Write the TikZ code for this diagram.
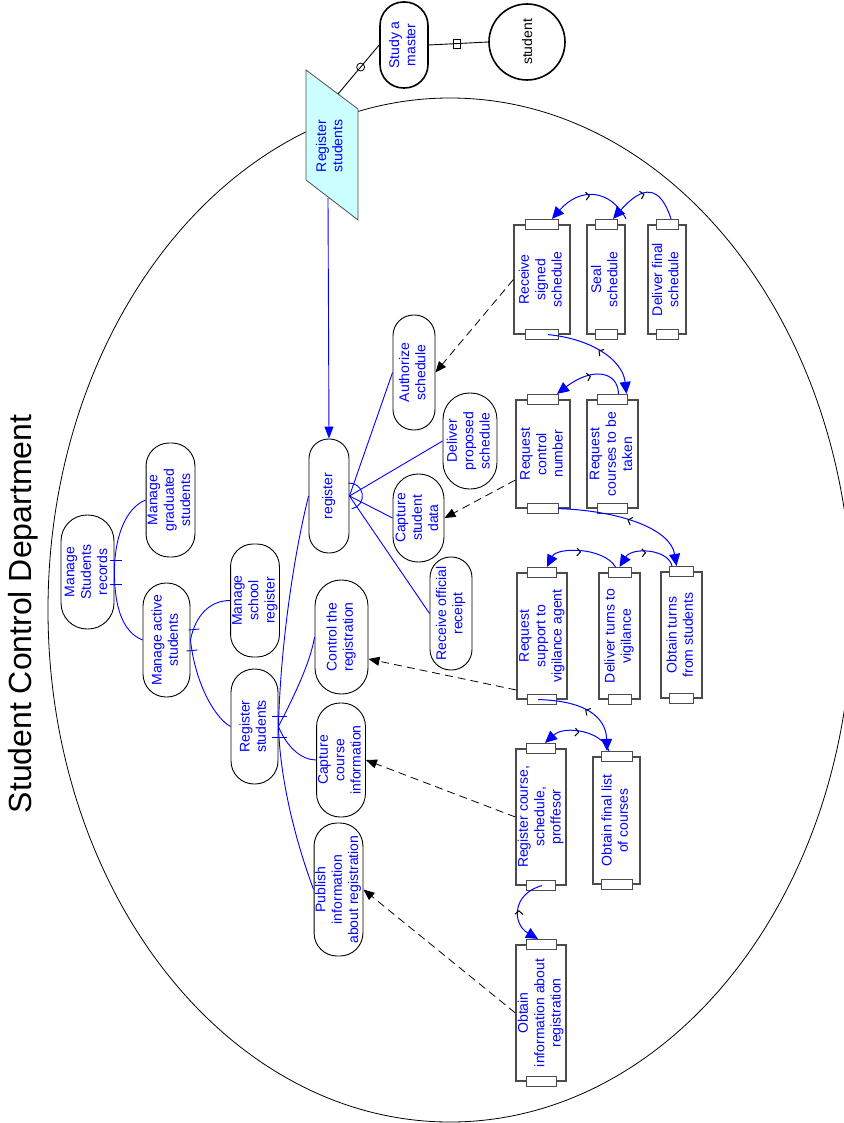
\documentclass[tikz,border=0pt]{standalone}
\usepackage{fontspec}
\setmainfont{Liberation Sans}
\usepackage{graphicx}
\usetikzlibrary{arrows.meta,decorations.markings,calc}
\newcommand{\rtx}[1]{\rotatebox{90}{\begin{tabular}{@{}c@{}}#1\end{tabular}}}
\newcommand{\nodefnt}{\fontsize{14}{16.3}\selectfont}
\definecolor{pcyan}{RGB}{204,255,255}
\begin{document}
\begin{tikzpicture}[x=1pt,y=1pt,
  rnd/.style 2 args={draw=black, line width=0.9pt, text=blue, inner sep=0pt,
    minimum width=#1pt, minimum height=#2pt, rounded corners=#1*0.49pt, font=\nodefnt},
  actbox/.style 2 args={draw=black!70, line width=1.2pt, text=blue, inner sep=0pt,
    minimum width=#1pt, minimum height=#2pt, font=\nodefnt},
  tabbox/.style={draw=black!70, fill=white, line width=1pt, minimum height=10pt,
    minimum width=#1pt, inner sep=0pt},
  tree/.style={draw=blue, line width=0.9pt},
  dsh/.style={draw=black, dash pattern=on 8pt off 5pt, line width=0.8pt,
    -{Triangle[length=11pt,width=9pt]}},
  flow/.style={draw=blue, line width=1pt, -{Triangle[length=12pt,width=11pt]},
    postaction={decorate},
    decoration={markings, mark=at position 0.5 with {\arrowreversed[black]{Straight Barb[length=3.5pt,width=8pt]}}}}
]
\useasboundingbox (0,0) rectangle (843,-1123);

% title
\node[rotate=90, font=\fontsize{32}{38}\selectfont] (title) at (23,-614) {Student Control Department};

% big ellipse
\draw[line width=0.8pt] (450,-610) ellipse [x radius=402, y radius=512];

% parallelogram
\draw[draw=black!70, fill=pcyan, line width=0.8pt] (306,-70) -- (358,-109) -- (358,-220) -- (306,-180) -- cycle;
\node[text=blue, font=\nodefnt, inner sep=0pt] (regp) at (331,-146) {\rtx{Register\\students}};
\coordinate (ptop) at (338,-94);
\coordinate (pbot) at (328,-198);

% study a master and student
\node[rnd={48}{86}, line width=1.6pt] (sam) at (404,-45) {\rtx{Study a\\master}};
\node[circle, draw, line width=1.6pt, minimum size=76pt, inner sep=0pt, font=\nodefnt] (stu) at (527,-42) {\rotatebox{90}{student}};
\draw[line width=0.9pt] (ptop) -- (sam.west);
\node[circle, draw, line width=0.8pt, minimum size=8pt, inner sep=0pt] (m1) at ($(ptop)!0.55!(sam.west)$) {};
\draw[line width=0.9pt] (sam.east) -- (stu.west);
\node[draw, line width=0.8pt, minimum width=7pt, minimum height=9pt, inner sep=0pt] (m2) at (457,-44) {};

% rounded nodes
\node[rnd={53}{114}] (rec) at (87.5,-572) {\rtx{Manage\\Students\\records}};
\node[rnd={47}{114}] (grad) at (170.5,-500) {\rtx{Manage\\graduated\\students}};
\node[rnd={47}{114}] (mact) at (166.5,-640) {\rtx{Manage active\\students}};
\node[rnd={46}{113}] (sch) at (255,-600.5) {\rtx{Manage\\school\\register}};
\node[rnd={47}{115}] (rs) at (254.5,-726.5) {\rtx{Register\\students}};
\node[rnd={53}{114}] (ctl) at (341.5,-637) {\rtx{Control the\\registration}};
\node[rnd={48}{114}] (cci) at (341,-760) {\rtx{Capture\\course\\information}};
\node[rnd={47}{133}] (pub) at (338.5,-889.5) {\rtx{Publish\\information\\about registration}};
\node[rnd={40}{114}] (reg) at (329,-496) {\rtx{register}};
\node[rnd={42}{115}] (auth) at (414,-372.5) {\rtx{Authorize\\schedule}};
\node[rnd={54}{96}] (dps) at (470,-441) {\rtx{Deliver\\proposed\\schedule}};
\node[rnd={51}{88}] (csd) at (418.5,-518) {\rtx{Capture\\student\\data}};
\node[rnd={42}{113}] (ror) at (451,-613.5) {\rtx{Receive official\\receipt}};

% activity boxes
\node[actbox={56}{109}] (rss) at (542,-279.5) {\rtx{Receive\\signed\\schedule}};
\node[actbox={38}{109}] (seal) at (606,-279.5) {\rtx{Seal\\schedule}};
\node[actbox={38}{109}] (dfs) at (667,-279.5) {\rtx{Deliver final\\schedule}};
\node[actbox={54}{108}] (rcn) at (543,-454) {\rtx{Request\\control\\number}};
\node[actbox={51}{108}] (rct) at (612.5,-454) {\rtx{Request\\courses to be\\taken}};
\node[actbox={50}{126}] (rsv) at (542,-636) {\rtx{Request\\support to\\vigilance agent}};
\node[actbox={41}{126}] (dtv) at (619.5,-636) {\rtx{Deliver turns to\\vigilance}};
\node[actbox={41}{126}] (ots) at (681.5,-635) {\rtx{Obtain turns\\from students}};
\node[actbox={50}{136}] (rcs) at (541,-817) {\rtx{Register course,\\schedule,\\proffesor}};
\node[actbox={47}{127}] (ofl) at (616.5,-820.5) {\rtx{Obtain final list\\of courses}};
\node[actbox={50}{136}] (oir) at (541,-1013) {\rtx{Obtain\\information about\\registration}};

% tabs
\node[tabbox=33] (rsst) at (rss.north) {};
\node[tabbox=33] (rssb) at (rss.south) {};
\node[tabbox=22] (sealt) at (seal.north) {};
\node[tabbox=22] (sealb) at (seal.south) {};
\node[tabbox=22] (dfst) at (dfs.north) {};
\node[tabbox=22] (dfsb) at (dfs.south) {};
\node[tabbox=31] (rcnt) at (rcn.north) {};
\node[tabbox=31] (rcnb) at (rcn.south) {};
\node[tabbox=30] (rctt) at (rct.north) {};
\node[tabbox=30] (rctb) at (rct.south) {};
\node[tabbox=29] (rsvt) at (rsv.north) {};
\node[tabbox=29] (rsvb) at (rsv.south) {};
\node[tabbox=23] (dtvt) at (dtv.north) {};
\node[tabbox=23] (dtvb) at (dtv.south) {};
\node[tabbox=24] (otst) at (ots.north) {};
\node[tabbox=24] (otsb) at (ots.south) {};
\node[tabbox=29] (rcst) at (rcs.north) {};
\node[tabbox=29] (rcsb) at (rcs.south) {};
\node[tabbox=31] (oflt) at (ofl.north) {};
\node[tabbox=31] (oflb) at (ofl.south) {};
\node[tabbox=30] (oirt) at (oir.north) {};
\node[tabbox=30] (oirb) at (oir.south) {};

% arrow from parallelogram to register
\draw[draw=blue, line width=0.9pt, -{Triangle[length=12pt,width=9pt]}] (pbot) -- (reg.north);

% tree connectors
\path[tree] (rec.east) .. controls +(0,35) and +(-20,-8) .. (grad.west);
\path[tree] (rec.east) .. controls +(0,-35) and +(-20,8) .. (mact.west);
\path[tree] ([shift={(-4,12)}]rec.east) -- ++(12,0);
\path[tree] ([shift={(-4,-12)}]rec.east) -- ++(12,0);
\path[tree] (mact.east) .. controls +(5,25) and +(-20,0) .. (sch.west);
\path[tree] (mact.east) .. controls +(5,-45) and +(-15,8) .. (rs.west);
\path[tree] ([shift={(-2,10)}]mact.east) -- ++(11,1);
\path[tree] ([shift={(-4,-11)}]mact.east) -- ++(11,1);
\path[tree] (rs.east) .. controls +(10,20) and +(-5,-30) .. (ctl.west);
\path[tree] (rs.east) .. controls +(8,-20) and +(-15,0) .. (cci.west);
\path[tree] (reg.west) .. controls +(-15,-60) and +(2,80) .. (rs.east);
\path[tree] (rs.east) .. controls +(2,-60) and +(-15,40) .. (pub.west);
\path[tree] ([shift={(-6,10.5)}]rs.east) -- ++(15,0);
\path[tree] ([shift={(-6,-10.5)}]rs.east) -- ++(15,0);

% register fan
\path[tree] (reg.east) -- (auth.west);
\path[tree] (reg.east) -- (dps.west);
\path[tree] (reg.east) -- (csd.west);
\path[tree] (reg.east) -- (ror.west);
\path[tree] ([shift={(-80:13)}]reg.east) arc[start angle=-80, end angle=95, radius=13];

% dashed arrows
\draw[dsh] (rss.west) -- (auth.east);
\draw[dsh] ([yshift=-26pt]rcn.west) -- (csd.east);
\draw[dsh] ([yshift=-54pt]rsv.west) -- ([yshift=-22pt]ctl.east);
\draw[dsh] (rcs.west) -- (cci.east);
\draw[dsh] (oir.west) -- (pub.east);

% flow arrows
\draw[flow] ([xshift=4pt]dfst.north) .. controls +(-11,34) and +(30,34) .. ([xshift=7pt]sealt.north);
\draw[flow] ([xshift=20pt]sealt.north) .. controls +(-16,30) and +(28,32) .. ([xshift=10pt]rsst.north);
\draw[flow] ([xshift=6pt]rssb.center) .. controls +(42,-4) and +(-4,35) .. ([xshift=14pt]rctt.north);
\draw[flow] ([xshift=6pt]rctt.north) .. controls +(-0.5,23) and +(35,27) .. ([xshift=14pt]rcnt.north);
\draw[flow] ([xshift=15pt]rcnb.center) .. controls +(62,-2) and +(-6,37) .. ([xshift=-5pt]otst.north);
\draw[flow] ([xshift=-9.5pt]otst.north) .. controls +(-4,17) and +(12.5,20) .. (dtvt.north);
\draw[flow] ([xshift=-4pt]dtvt.north) .. controls +(-12.5,20) and +(10,20) .. ([xshift=5pt]rsvt.north);
\draw[flow] ([xshift=-4pt]rsvb.center) .. controls +(47,-1) and +(-1,34) .. ([xshift=-9.5pt]oflt.north);
\draw[flow] ([xshift=-7.5pt]oflt.north) .. controls +(-7,20) and +(20,18) .. ([xshift=4pt]rcst.north);
\draw[flow] ([xshift=1pt]rcsb.center) .. controls +(-30,-8) and +(-26,15) .. ([xshift=-3pt]oirt.north);
\end{tikzpicture}
\end{document}
